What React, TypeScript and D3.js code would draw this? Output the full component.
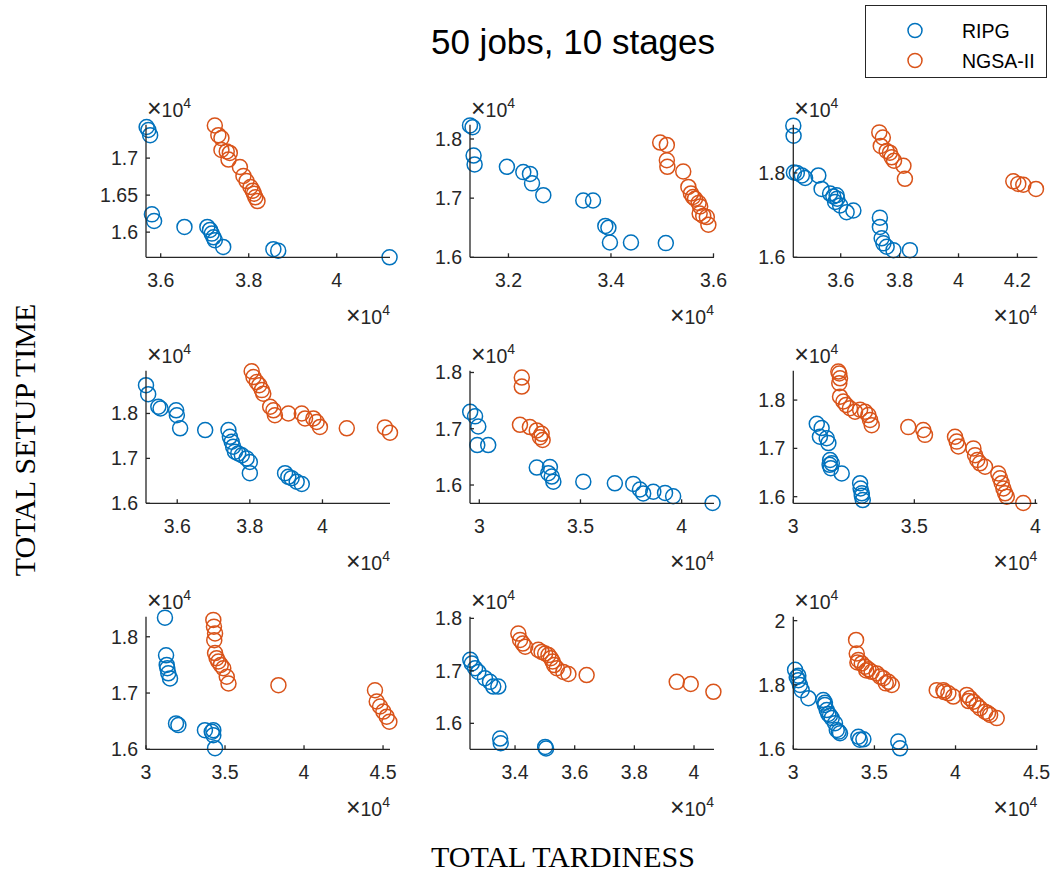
import React from "react";
import * as d3 from "d3";

type Pt = [number, number];

// Pareto fronts per instance: [total tardiness, total setup time]
const ripg1: Pt[] = [[35680,17420],[35720,17380],[35760,17310],[35800,16240],[35850,16150],[36540,16070],[37060,16070],[37120,16030],[37160,15980],[37200,15930],[37230,15890],[37420,15800],[38560,15770],[38670,15750],[41200,15660]];
const nsga1: Pt[] = [[37230,17440],[37310,17310],[37380,17270],[37380,17110],[37500,17090],[37570,17070],[37540,16980],[37800,16880],[37880,16760],[37950,16690],[38040,16610],[38090,16560],[38120,16520],[38150,16470],[38200,16420]];

const ripg2: Pt[] = [[31250,18230],[31300,18200],[31320,17720],[31340,17570],[31970,17530],[32290,17440],[32420,17410],[32460,17250],[32680,17050],[33460,16960],[33650,16960],[33890,16530],[33950,16500],[33980,16250],[34390,16250],[35070,16240]];
const nsga2: Pt[] = [[34960,17940],[35090,17900],[35090,17640],[35100,17530],[35410,17450],[35510,17190],[35560,17080],[35600,17020],[35640,16990],[35710,16920],[35740,16860],[35730,16740],[35800,16700],[35870,16680],[35900,16550]];

const ripg3: Pt[] = [[34390,19120],[34400,18880],[34410,18010],[34510,18000],[34680,17940],[34790,17880],[35240,17940],[35350,17620],[35640,17510],[35750,17440],[35860,17470],[35880,17390],[35810,17310],[35980,17230],[36200,17070],[36430,17110],[37330,16940],[37330,16720],[37390,16450],[37450,16330],[37560,16250],[37790,16170],[38350,16170]];
const nsga3: Pt[] = [[37310,18960],[37430,18840],[37360,18640],[37560,18520],[37670,18480],[37730,18370],[37810,18290],[38130,18170],[38180,17860],[41860,17800],[42030,17740],[42200,17720],[42630,17620]];

const ripg4: Pt[] = [[35140,18630],[35200,18430],[35480,18150],[35540,18110],[35970,18070],[35990,17960],[36080,17670],[36770,17630],[37410,17630],[37450,17480],[37500,17370],[37540,17260],[37590,17150],[37680,17110],[37780,17070],[37910,17000],[38000,16920],[38000,16670],[38970,16670],[39060,16590],[39150,16560],[39290,16480],[39430,16430]];
const nsga4: Pt[] = [[38050,18940],[38100,18810],[38190,18700],[38260,18630],[38330,18520],[38370,18440],[38560,18150],[38650,18070],[38690,17960],[39060,18000],[39430,18000],[39520,17890],[39750,17890],[39840,17810],[39930,17700],[40670,17670],[41720,17690],[41860,17570]];

const ripg5: Pt[] = [[29550,17300],[29790,17220],[29950,17040],[29900,16710],[30440,16710],[32840,16310],[33490,16320],[33410,16210],[33580,16150],[33660,16060],[35140,16060],[36700,16030],[37610,16020],[37940,15920],[38100,15850],[38600,15880],[39180,15860],[39580,15800],[41530,15680]];
const nsga5: Pt[] = [[32100,17910],[32100,17750],[32010,17070],[32500,17030],[32840,16970],[33000,16850],[33080,16910],[33130,16800]];

const ripg6: Pt[] = [[30970,17510],[31170,17420],[31100,17240],[31380,17210],[31450,17110],[31520,16760],[31590,16690],[31500,16660],[31550,16590],[32000,16480],[32760,16280],[32780,16170],[32830,16070],[32830,16020],[32870,15930]];
const nsga6: Pt[] = [[31860,18590],[31900,18550],[31930,18450],[31900,18350],[31930,18070],[32070,17970],[32180,17900],[32340,17830],[32550,17760],[32760,17800],[32960,17760],[33100,17690],[33170,17590],[33240,17480],[34750,17440],[35370,17380],[35440,17280],[36680,17240],[36750,17140],[36820,17040],[37440,17000],[37510,16860],[37600,16760],[37710,16690],[37920,16620],[38470,16480],[38540,16380],[38610,16280],[38680,16170],[38750,16070],[38820,16000],[39500,15870]];

const ripg7: Pt[] = [[31200,18340],[31270,17670],[31310,17500],[31350,17440],[31410,17350],[31520,17260],[31900,16460],[32050,16430],[33730,16340],[34160,16310],[34260,16340],[34260,16250],[34370,16020]];
const nsga7: Pt[] = [[34260,18300],[34300,18180],[34370,18060],[34320,17940],[34370,17710],[34470,17620],[34580,17560],[34730,17500],[34890,17440],[35110,17290],[35220,17170],[38380,17140],[44490,17050],[44600,16850],[44810,16760],[45020,16670],[45230,16580],[45400,16490]];

const ripg8: Pt[] = [[32500,17210],[32550,17140],[32660,17050],[32770,16980],[32990,16860],[33160,16790],[33270,16700],[33440,16700],[33500,15710],[33520,15620],[35010,15550],[35040,15520]];
const nsga8: Pt[] = [[34110,17710],[34170,17590],[34260,17520],[34340,17460],[34780,17400],[34890,17360],[35010,17330],[35120,17300],[35200,17240],[35260,17180],[35310,17110],[35400,17050],[35620,16980],[35790,16940],[36400,16920],[39420,16790],[39890,16750],[40650,16600]];

const ripg9: Pt[] = [[30110,18470],[30210,18240],[30310,18290],[30310,18150],[30410,18000],[30520,17840],[30930,17590],[31850,17530],[31950,17450],[31950,17380],[32060,17220],[32160,17100],[32260,17050],[32370,16970],[32570,16810],[32680,16600],[32800,16550],[32880,16500],[34010,16390],[34100,16300],[34320,16310],[36470,16240],[36580,16030]];
const nsga9: Pt[] = [[33870,19400],[33910,18980],[33950,18700],[34010,18780],[34220,18670],[34420,18570],[34500,18450],[34630,18490],[34830,18410],[35140,18360],[35350,18260],[35550,18210],[35700,18050],[35860,18100],[36070,18000],[38840,17840],[39250,17840],[39300,17780],[39560,17740],[39860,17640],[40690,17690],[40800,17500],[40890,17590],[41100,17480],[41310,17380],[41510,17280],[41820,17170],[42000,17120],[42130,17070],[42540,16970]];

// Axis limits and ticks per instance
const xLimits: [number, number][] = [
  [35666, 41210], [31250, 36010], [34390, 42675],
  [35140, 41860], [29540, 41600], [30000, 40080],
  [30000, 45440], [32490, 40670], [30000, 45040],
];
const yLimits: [number, number][] = [
  [15660, 17450], [16000, 18240], [16000, 19140],
  [16000, 18950], [15675, 18030], [15863, 18606],
  [16000, 18355], [15505, 18030], [16000, 20120],
];
const xTickValues: number[][] = [
  [36000, 38000, 40000], [32000, 34000, 36000], [36000, 38000, 40000, 42000],
  [36000, 38000, 40000], [30000, 35000, 40000], [30000, 35000, 40000],
  [30000, 35000, 40000, 45000], [34000, 36000, 38000, 40000], [30000, 35000, 40000, 45000],
];
const yTickValues: number[][] = [
  [16000, 16500, 17000], [16000, 17000, 18000], [16000, 18000],
  [16000, 17000, 18000], [16000, 17000, 18000], [16000, 17000, 18000],
  [16000, 17000, 18000], [16000, 17000, 18000], [16000, 18000, 20000],
];

const ripgSets = [ripg1, ripg2, ripg3, ripg4, ripg5, ripg6, ripg7, ripg8, ripg9];
const nsgaSets = [nsga1, nsga2, nsga3, nsga4, nsga5, nsga6, nsga7, nsga8, nsga9];

const seriesNames = ["RIPG", "NGSA-II"];
const seriesColors = ["#0072BD", "#D95319"];
const titleText = "50 jobs, 10 stages";
const xLabelText = "TOTAL TARDINESS";
const yLabelText = "TOTAL SETUP TIME";

const W = 1055;
const H = 872;
const colLeft = [146, 470, 793.3];
const rowTop = [124.8, 370.8, 616.8];
const axW = 244;
const axH = 132.5;
const axisColor = "#262626";
const sansFont = "'Liberation Sans', Arial, Helvetica, sans-serif";
const serifFont = "'Liberation Serif', 'Times New Roman', serif";
const tickFont = 19.5;
const markerR = 7.5;

const fmt = (v: number) => d3.format(".3~f")(v / 1e4);

// "×10^4" exponent label shown at the axis ends
function Exponent({ x, y, anchor }: { x: number; y: number; anchor: "start" | "end" }) {
  return (
    <text x={x} y={y} textAnchor={anchor} fontFamily={sansFont} fontSize={tickFont} fill={axisColor}>
      <tspan fontSize={25}>×</tspan>
      <tspan>10</tspan>
      <tspan fontSize={14} dy={-9}>4</tspan>
    </text>
  );
}

function Panel({ idx }: { idx: number }) {
  const col = idx % 3;
  const row = Math.floor(idx / 3);
  const left = colLeft[col];
  const top = rowTop[row];
  const bottom = top + axH;
  const x = d3.scaleLinear().domain(xLimits[idx]).range([left, left + axW]);
  const y = d3.scaleLinear().domain(yLimits[idx]).range([bottom, top]);
  const sets = [ripgSets[idx], nsgaSets[idx]];
  return (
    <g>
      {sets.map((pts, s) => (
        <g key={s}>
          {pts.map((p, i) => (
            <circle key={i} cx={x(p[0])} cy={y(p[1])} r={markerR} fill="none" stroke={seriesColors[s]} strokeWidth={1.5} />
          ))}
        </g>
      ))}
      <line x1={left} x2={left + axW} y1={bottom} y2={bottom} stroke={axisColor} strokeWidth={1.3} />
      <line x1={left} x2={left} y1={top} y2={bottom} stroke={axisColor} strokeWidth={1.3} />
      {xTickValues[idx].map((t) => (
        <g key={"x" + t}>
          <line x1={x(t)} x2={x(t)} y1={bottom} y2={bottom - 4} stroke={axisColor} strokeWidth={1.3} />
          <text x={x(t)} y={bottom + 30} textAnchor="middle" fontFamily={sansFont} fontSize={tickFont} fill={axisColor}>
            {fmt(t)}
          </text>
        </g>
      ))}
      {yTickValues[idx].map((t) => (
        <g key={"y" + t}>
          <line x1={left} x2={left + 4} y1={y(t)} y2={y(t)} stroke={axisColor} strokeWidth={1.3} />
          <text x={left - 8} y={y(t) + 7} textAnchor="end" fontFamily={sansFont} fontSize={tickFont} fill={axisColor}>
            {fmt(t)}
          </text>
        </g>
      ))}
      <Exponent x={left + 1} y={top - 8} anchor="start" />
      <Exponent x={left + axW} y={bottom + 67} anchor="end" />
    </g>
  );
}

export default function App() {
  return (
    <div style={{ position: "absolute", left: 0, top: 0 }}>
      <svg width={W} height={H} viewBox={`0 0 ${W} ${H}`} style={{ display: "block", background: "#fff" }}>
        <rect width={W} height={H} fill="#fff" />
        {d3.range(9).map((i) => (
          <Panel key={i} idx={i} />
        ))}
        <text x={573} y={54} textAnchor="middle" fontFamily={sansFont} fontSize={35} fill="#000">
          {titleText}
        </text>
        <text x={563} y={867} textAnchor="middle" fontFamily={serifFont} fontSize={30} fill="#000">
          {xLabelText}
        </text>
        <text transform="translate(35,440) rotate(-90)" textAnchor="middle" fontFamily={serifFont} fontSize={30} fill="#000">
          {yLabelText}
        </text>
        <g>
          <rect x={865.5} y={5.5} width={181} height={72} fill="#fff" stroke={axisColor} strokeWidth={1} />
          {seriesNames.map((name, i) => (
            <g key={name}>
              <circle cx={915} cy={30.5 + i * 30} r={7} fill="none" stroke={seriesColors[i]} strokeWidth={1.5} />
              <text x={962} y={30.5 + i * 30 + 7} fontFamily={sansFont} fontSize={19.5} fill="#000">
                {name}
              </text>
            </g>
          ))}
        </g>
      </svg>
    </div>
  );
}
